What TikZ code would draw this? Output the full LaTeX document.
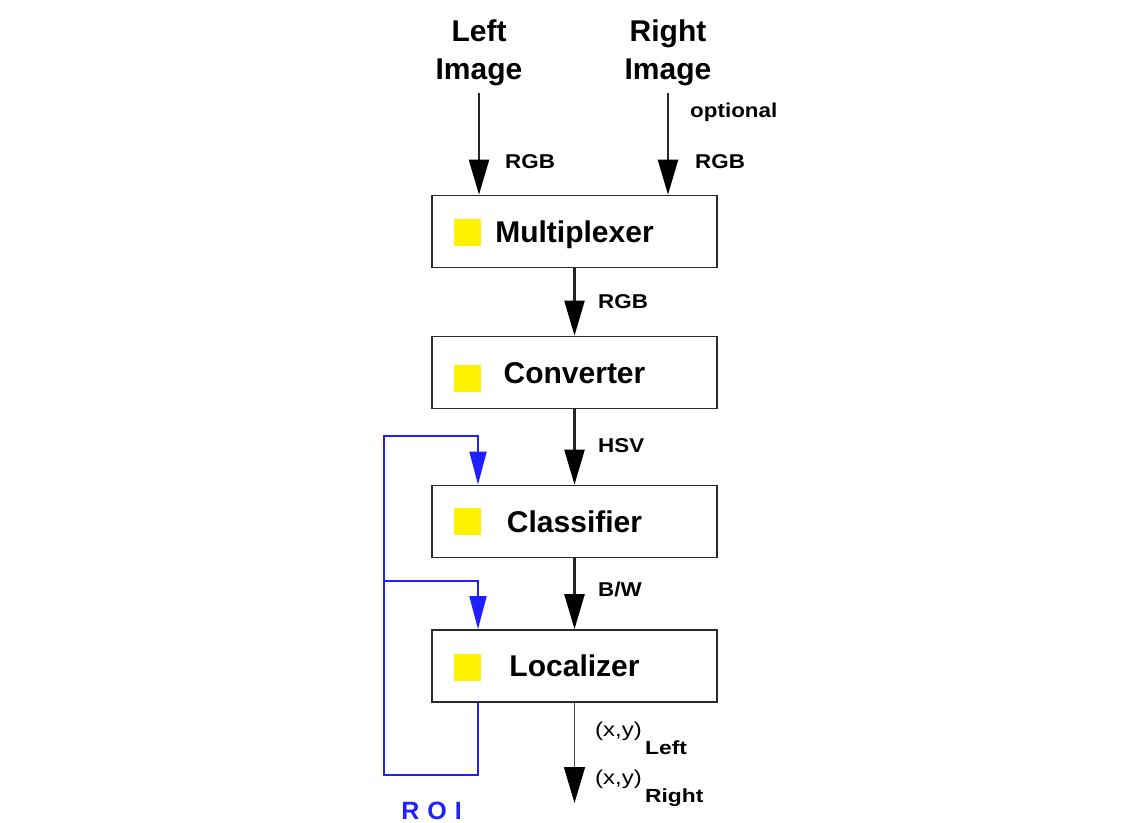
\documentclass[tikz,border=0pt]{standalone}
\usepackage{fontspec}
\setmainfont{Liberation Sans}
\newfontfamily\lblfont{Liberation Sans}[FakeStretch=1.12]
\newfontfamily\outfont{Liberation Sans}[FakeStretch=1.2]
\usetikzlibrary{arrows.meta}
\definecolor{edge}{HTML}{2A2A2A}
\definecolor{fb}{HTML}{2020FF}
\begin{document}
\begin{tikzpicture}[x=1pt,y=-1pt,
  box/.style={draw=edge, line width=1.7pt, fill=white, minimum width=285pt,
    minimum height=72pt, inner sep=0pt,
    font=\bfseries\fontsize{30}{36}\selectfont, text height=21.5pt, text depth=0pt},
  chip/.style={fill=yellow, minimum size=27pt, inner sep=0pt},
  ttl/.style={font=\bfseries\fontsize{30}{38}\selectfont, align=center,
    inner sep=0pt, anchor=south},
  lbl/.style={font=\lblfont\bfseries\fontsize{20}{24}\selectfont, inner sep=0pt,
    anchor=base west},
  olbl/.style={font=\outfont\fontsize{20}{24}\selectfont, inner sep=0pt,
    anchor=base west},
  arr/.style={draw=black!85, line width=2.3pt,
    -{Triangle[length=35pt,width=20pt,color=black]}},
  outarr/.style={draw=black!70, line width=1.6pt,
    -{Triangle[length=36pt,width=21pt,color=black]}},
  roi/.style={draw=fb, line width=1.7pt, line join=miter,
    -{Triangle[length=33pt,width=17pt]}},
  roilbl/.style={font=\bfseries\fontsize{25}{30}\selectfont, text=fb,
    inner sep=0pt, anchor=base}
]
\useasboundingbox (0,0) rectangle (1143,822);

% inputs
\node[ttl] (limg) at (479,86) {Left\\Image};
\node[ttl] (rimg) at (668,86) {Right\\Image};

% processing stages
\node[box] (mux)  at (574.5,231.5) {Multiplexer};
\node[box] (conv) at (574.5,372.5) {Converter};
\node[box] (cls)  at (574.5,521.5) {Classifier};
\node[box] (loc)  at (574.5,666)   {Localizer};

\node[chip] (muxchip)  at (467,232) {};
\node[chip] (convchip) at (467,378) {};
\node[chip] (clschip)  at (467,521) {};
\node[chip] (locchip)  at (467,667) {};

% data flow
\draw[arr] ([yshift=-7pt]limg.south) -- (limg.south |- mux.north);
\draw[arr] ([yshift=-7pt]rimg.south) -- (rimg.south |- mux.north);
\draw[arr] (mux.south) -- (conv.north);
\draw[arr] (conv.south) -- (cls.north);
\draw[arr] (cls.south) -- (loc.north);
\coordinate (xyout) at (574.5,803);
\draw[outarr] (loc.south) -- (xyout);

% signal labels
\node[lbl] (rgbL) at (505,168) {RGB};
\node[lbl] (opt)  at (690,117) {optional};
\node[lbl] (rgbR) at (695,168) {RGB};
\node[lbl] (rgbM) at (598,308) {RGB};
\node[lbl] (hsv)  at (598,452) {HSV};
\node[lbl] (bw)   at (598,596) {B/W};
\node[olbl] (xyL) at (595,736) {(x,y)\,\raisebox{-18pt}{\bfseries\fontsize{19}{22}\selectfont Left}};
\node[olbl] (xyR) at (595,784) {(x,y)\,\raisebox{-18pt}{\bfseries\fontsize{19}{22}\selectfont Right}};

% region-of-interest feedback
\coordinate (fbOut) at (478,702);
\coordinate (fbBL) at (384,775);
\coordinate (fbTL) at (384,436);
\coordinate (fbML) at (384,581);
\draw[roi] (loc.south -| fbOut) -- (fbOut |- fbBL) -- (fbBL) -- (fbTL)
  -- (fbTL -| fbOut) -- (fbOut |- cls.north);
\draw[roi] (fbML) -- (fbML -| fbOut) -- (fbOut |- loc.north);
\node[roilbl] (roitxt) at (431.5,819) {R\hspace{8pt}O\hspace{8pt}I};
\end{tikzpicture}
\end{document}
